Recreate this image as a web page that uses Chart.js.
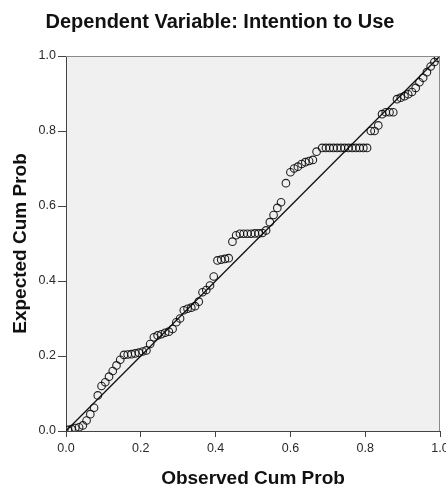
<!DOCTYPE html>
<html>
<head>
<meta charset="utf-8">
<script src="https://cdn.jsdelivr.net/npm/chart.js@4/dist/chart.umd.min.js"></script>
<style>
html,body{margin:0;padding:0;background:#fff;overflow:hidden;width:446px;height:488px;}
#wrap{width:456px;height:488px;}
</style>
</head>
<body>
<div id="wrap"><canvas id="c" width="456" height="488"></canvas></div>
<script>
const chartTitle = 'Dependent Variable: Intention to Use';
const xAxisTitle = 'Observed Cum Prob';
const yAxisTitle = 'Expected Cum Prob';
const tickValues = [0, 0.2, 0.4, 0.6, 0.8, 1.0];
const tickLabels = ['0.0', '0.2', '0.4', '0.6', '0.8', '1.0'];

const observed = [
  0.005, 0.015, 0.025, 0.035, 0.045, 0.055, 0.065, 0.075, 0.085, 0.095,
  0.105, 0.115, 0.125, 0.135, 0.145, 0.155, 0.165, 0.175, 0.185, 0.195,
  0.205, 0.215, 0.225, 0.235, 0.245, 0.255, 0.265, 0.275, 0.285, 0.295,
  0.305, 0.315, 0.325, 0.335, 0.345, 0.355, 0.365, 0.375, 0.385, 0.395,
  0.405, 0.415, 0.425, 0.435, 0.445, 0.455, 0.465, 0.475, 0.485, 0.495,
  0.505, 0.515, 0.525, 0.535, 0.545, 0.555, 0.565, 0.575, 0.588, 0.600,
  0.610, 0.620, 0.630, 0.640, 0.650, 0.660, 0.670, 0.685, 0.695, 0.705,
  0.715, 0.725, 0.735, 0.745, 0.755, 0.765, 0.775, 0.785, 0.795, 0.805,
  0.815, 0.825, 0.835, 0.845, 0.855, 0.865, 0.875, 0.885, 0.895, 0.905,
  0.915, 0.925, 0.935, 0.945, 0.955, 0.965, 0.975, 0.985, 0.995
];
const expected = [
  0.003, 0.005, 0.008, 0.010, 0.015, 0.028, 0.045, 0.062, 0.095, 0.120,
  0.130, 0.145, 0.160, 0.175, 0.190, 0.203, 0.204, 0.205, 0.207, 0.209,
  0.212, 0.215, 0.232, 0.250, 0.255, 0.258, 0.262, 0.265, 0.272, 0.290,
  0.300, 0.322, 0.326, 0.329, 0.333, 0.345, 0.370, 0.376, 0.388, 0.412,
  0.455, 0.457, 0.459, 0.461, 0.505, 0.522, 0.526, 0.526, 0.526, 0.526,
  0.527, 0.527, 0.528, 0.535, 0.557, 0.576, 0.595, 0.610, 0.661, 0.690,
  0.700, 0.705, 0.712, 0.717, 0.720, 0.723, 0.745, 0.755, 0.755, 0.755,
  0.755, 0.755, 0.755, 0.755, 0.755, 0.755, 0.755, 0.755, 0.755, 0.755,
  0.800, 0.800, 0.815, 0.845, 0.850, 0.850, 0.850, 0.885, 0.889, 0.893,
  0.898, 0.904, 0.915, 0.930, 0.942, 0.957, 0.972, 0.984, 0.995
];
const refLineX = [0, 1];
const refLineY = [0, 1];

const FONT = "'Liberation Sans', Arial, sans-serif";

const plotBg = {
  id: 'plotBg',
  beforeDraw(chart) {
    const {ctx, chartArea: a} = chart;
    ctx.save();
    ctx.fillStyle = '#f0f0f0';
    ctx.fillRect(a.left, a.top, a.right - a.left, a.bottom - a.top);
    ctx.restore();
  },
  afterDatasetsDraw(chart) {
    const {ctx, chartArea: a} = chart;
    ctx.save();
    ctx.strokeStyle = '#8a8a8a';
    ctx.lineWidth = 1;
    ctx.beginPath();
    ctx.moveTo(a.left, a.top + 0.5);
    ctx.lineTo(a.right - 0.5, a.top + 0.5);
    ctx.lineTo(a.right - 0.5, a.bottom);
    ctx.stroke();
    ctx.restore();
  }
};

function setTicks(scale) {
  scale.ticks = tickValues.map(v => ({value: v}));
}

new Chart(document.getElementById('c'), {
  data: {
    datasets: [
      {
        type: 'line',
        data: refLineX.map((x, i) => ({x: x, y: refLineY[i]})),
        borderColor: '#111',
        borderWidth: 1.3,
        pointRadius: 0,
        fill: false,
        order: 2
      },
      {
        type: 'scatter',
        data: observed.map((x, i) => ({x: x, y: expected[i]})),
        pointStyle: 'circle',
        pointRadius: 3.8,
        borderWidth: 1.1,
        borderColor: 'rgba(10,10,10,0.9)',
        backgroundColor: 'rgba(0,0,0,0)',
        order: 1
      }
    ]
  },
  options: {
    responsive: false,
    animation: false,
    devicePixelRatio: 1,
    layout: {padding: {left: 0, right: 16, top: 0, bottom: 0}},
    plugins: {
      legend: {display: false},
      tooltip: {enabled: false},
      title: {
        display: true,
        text: chartTitle,
        color: '#111',
        font: {family: FONT, size: 20, weight: 'bold', lineHeight: 1.2},
        padding: {top: 10.5, bottom: 21.5}
      }
    },
    scales: {
      x: {
        type: 'linear',
        min: 0, max: 1,
        afterBuildTicks: setTicks,
        afterFit(scale) { scale.height = 57; scale.paddingRight = 0; scale.paddingLeft = 0; },
        grid: {display: true, drawOnChartArea: false, drawTicks: true, tickLength: 6, color: '#444', lineWidth: 1},
        border: {display: true, color: '#444', width: 1},
        ticks: {
          autoSkip: false, maxRotation: 0, padding: 4,
          color: '#2a2a2a',
          font: {family: FONT, size: 12.5},
          callback: (v, i) => tickLabels[i]
        },
        title: {
          display: true, text: xAxisTitle, color: '#111',
          font: {family: FONT, size: 19, weight: 'bold', lineHeight: 1},
          padding: {top: 0, bottom: 0}
        }
      },
      y: {
        type: 'linear',
        min: 0, max: 1,
        afterBuildTicks: setTicks,
        afterFit(scale) { scale.width = 66; scale.paddingTop = 0; scale.paddingBottom = 0; },
        grid: {display: true, drawOnChartArea: false, drawTicks: true, tickLength: 8, color: '#444', lineWidth: 1},
        border: {display: true, color: '#444', width: 1},
        ticks: {
          autoSkip: false, padding: 2,
          color: '#2a2a2a',
          font: {family: FONT, size: 12.5},
          callback: (v, i) => tickLabels[i]
        },
        title: {
          display: true, text: yAxisTitle, color: '#111',
          font: {family: FONT, size: 19, weight: 'bold', lineHeight: 1},
          padding: {top: 11, bottom: 0}
        }
      }
    }
  },
  plugins: [plotBg]
});
</script>
</body>
</html>
